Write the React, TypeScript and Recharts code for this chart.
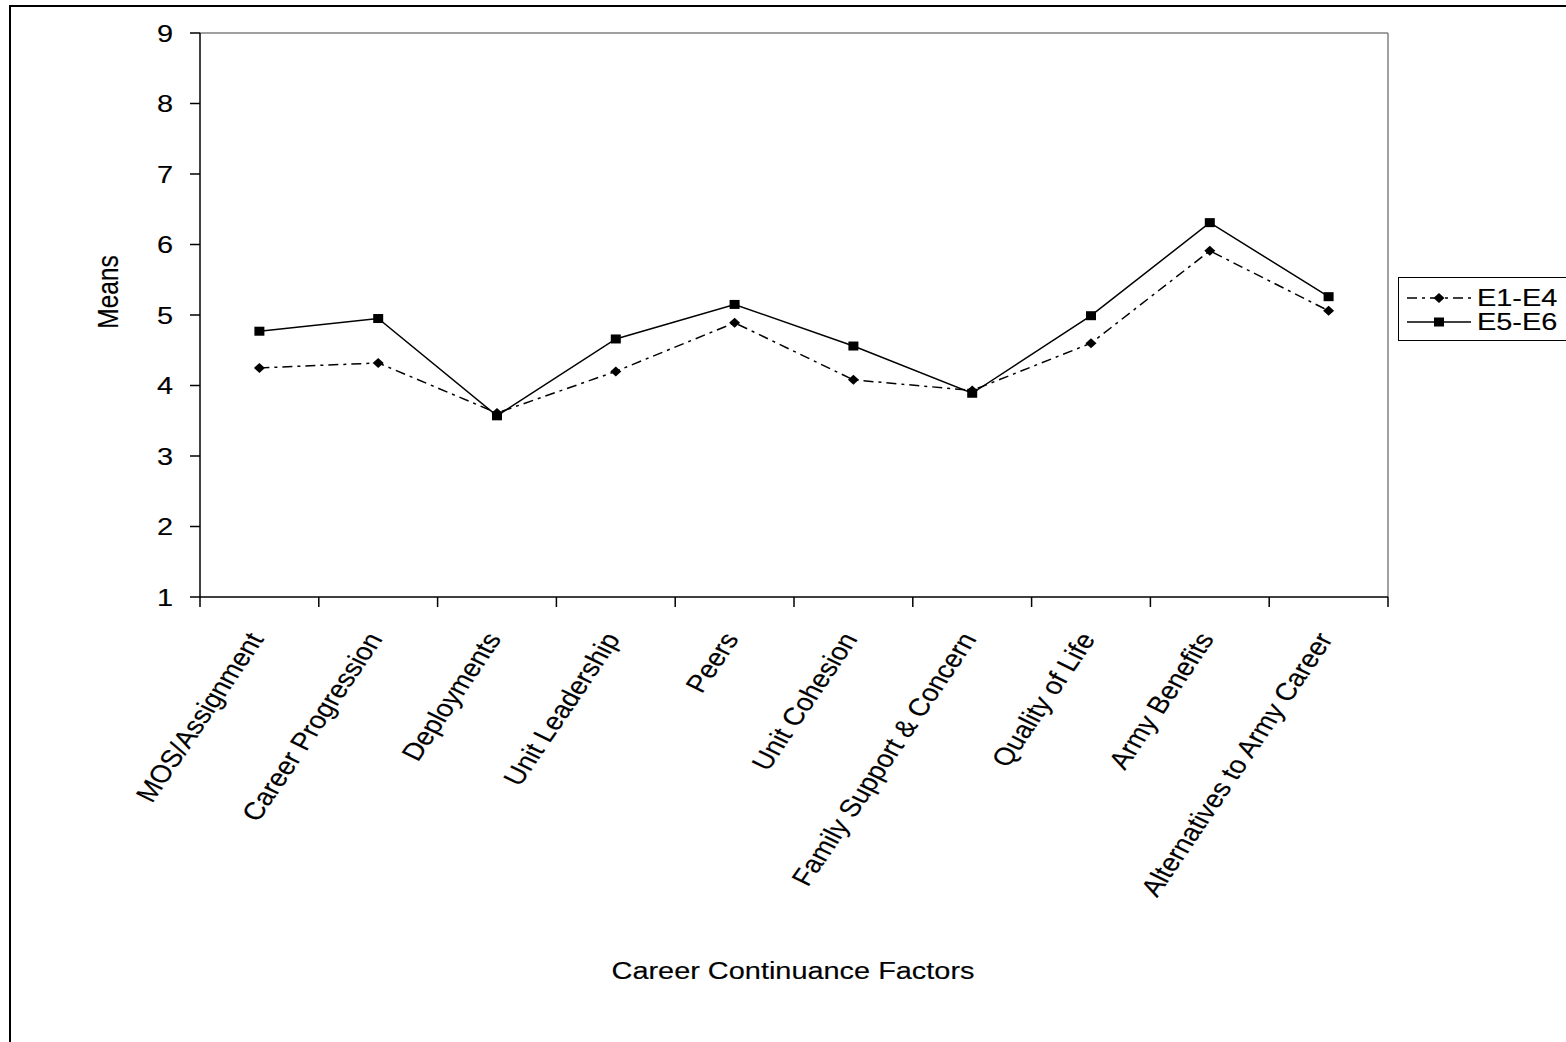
import React from "react";
import {
  LineChart,
  Line,
  XAxis,
  YAxis,
  ReferenceLine,
} from "recharts";

const categories = [
  "MOS/Assignment",
  "Career Progression",
  "Deployments",
  "Unit Leadership",
  "Peers",
  "Unit Cohesion",
  "Family Support & Concern",
  "Quality of Life",
  "Army Benefits",
  "Alternatives to Army Career",
];

const e1e4 = [4.25, 4.32, 3.61, 4.2, 4.89, 4.08, 3.93, 4.6, 5.91, 5.06];
const e5e6 = [4.77, 4.95, 3.57, 4.66, 5.15, 4.56, 3.89, 4.99, 6.31, 5.26];

const yTicks = [1, 2, 3, 4, 5, 6, 7, 8, 9];

const seriesNames = ["E1-E4", "E5-E6"];

const data = categories.map((name, i) => ({
  pos: i + 0.5,
  name,
  e1e4: e1e4[i],
  e5e6: e5e6[i],
}));

// tick marks sit between categories, so the x axis runs 0..n
const xTicks = categories.map((_, i) => i).concat(categories.length);

const W = 1566;
const H = 1042;
const LEFT = 200;
const RIGHT = 178;
const TOP = 33;
const X_AXIS_H = 445;
const BAND = (W - LEFT - RIGHT) / categories.length;

const FONT = "'Liberation Sans', Arial, sans-serif";
const FONT_SIZE = 24.5;
const STRETCH = 1.18; // the whole drawing is widened horizontally
const DASH_DOT = "10 5 3 5";

// text rotated first, then widened, like the rest of the figure
function WideText({ x, y, angle = 0, anchor = "start", dy, children }: any) {
  return (
    <text
      transform={`translate(${x},${y}) scale(${STRETCH},1) rotate(${angle})`}
      textAnchor={anchor}
      dy={dy}
      fontSize={FONT_SIZE}
      fontFamily={FONT}
      fill="#000"
      stroke="#000"
      strokeWidth={0.15}
    >
      {children}
    </text>
  );
}

function Diamond({ cx, cy }: any) {
  const rx = 5.5;
  const ry = 5;
  return (
    <polygon
      points={`${cx},${cy - ry} ${cx + rx},${cy} ${cx},${cy + ry} ${cx - rx},${cy}`}
      fill="#000"
    />
  );
}

function Square({ cx, cy }: any) {
  return <rect x={cx - 5} y={cy - 4.5} width={10} height={9} fill="#000" />;
}

function CategoryTick(props: any) {
  const { x, y, payload } = props;
  const i = payload.value;
  if (i >= categories.length) return <g />;
  return (
    <WideText x={x + BAND / 2 + 5} y={y + 30} angle={-60} anchor="end">
      {categories[i]}
    </WideText>
  );
}

function ValueTick(props: any) {
  const { x, y, payload } = props;
  return (
    <WideText x={x} y={y} anchor="end" dy="0.36em">
      {payload.value}
    </WideText>
  );
}

function Legend() {
  const rows = [
    { name: seriesNames[0], dash: DASH_DOT, Mark: Diamond },
    { name: seriesNames[1], dash: undefined, Mark: Square },
  ];
  return (
    <div
      style={{
        position: "absolute",
        left: 1398,
        top: 277,
        width: 190,
        height: 62,
        border: "1px solid #000",
        background: "#fff",
      }}
    >
      <svg width={190} height={62}>
        {rows.map((r, i) => {
          const cy = 19 + i * 24;
          return (
            <g key={r.name}>
              <line
                x1={8}
                x2={72}
                y1={cy + 1}
                y2={cy + 1}
                stroke="#000"
                strokeWidth={1.5}
                strokeDasharray={r.dash}
              />
              <r.Mark cx={40} cy={cy + 1} />
              <WideText x={78} y={cy} dy="0.36em">
                {r.name}
              </WideText>
            </g>
          );
        })}
      </svg>
    </div>
  );
}

export default function App() {
  return (
    <div
      style={{
        position: "fixed",
        inset: 0,
        background: "#fff",
        overflow: "hidden",
      }}
    >
      <div
        style={{
          position: "absolute",
          left: 9,
          top: 5,
          width: 1600,
          height: 1100,
          border: "2px solid #000",
        }}
      />
      <div style={{ position: "absolute", left: 0, top: 0 }}>
        <LineChart
          width={W}
          height={H}
          data={data}
          margin={{ top: TOP, right: RIGHT, bottom: 0, left: 0 }}
        >
          <XAxis
            type="number"
            dataKey="pos"
            domain={[0, categories.length]}
            ticks={xTicks}
            interval={0}
            height={X_AXIS_H}
            tickSize={10}
            axisLine={{ stroke: "#000", strokeWidth: 1.5 }}
            tickLine={{ stroke: "#000", strokeWidth: 1.5 }}
            tick={(p: any) => <CategoryTick {...p} />}
            label={{
              content: ({ viewBox }: any) => (
                <WideText
                  x={viewBox.x + viewBox.width / 2 - 1}
                  y={viewBox.y + 382}
                  anchor="middle"
                >
                  Career Continuance Factors
                </WideText>
              ),
            }}
          />
          <YAxis
            type="number"
            domain={[1, 9]}
            ticks={yTicks}
            interval={0}
            width={LEFT}
            tickSize={10}
            tickMargin={17}
            axisLine={{ stroke: "#000", strokeWidth: 1.5 }}
            tickLine={{ stroke: "#000", strokeWidth: 1.5 }}
            tick={(p: any) => <ValueTick {...p} />}
            label={{
              content: ({ viewBox }: any) => (
                <WideText
                  x={108}
                  y={viewBox.y + viewBox.height / 2 - 23}
                  angle={-90}
                  anchor="middle"
                  dy="0.36em"
                >
                  Means
                </WideText>
              ),
            }}
          />
          <ReferenceLine y={9} stroke="#808080" strokeWidth={1.5} />
          <ReferenceLine x={categories.length} stroke="#808080" strokeWidth={1.5} />
          <Line
            type="linear"
            dataKey="e1e4"
            name={seriesNames[0]}
            stroke="#000"
            strokeWidth={1.5}
            strokeDasharray={DASH_DOT}
            dot={(p: any) => <Diamond key={`d${p.index}`} cx={p.cx} cy={p.cy} />}
            activeDot={false}
            isAnimationActive={false}
          />
          <Line
            type="linear"
            dataKey="e5e6"
            name={seriesNames[1]}
            stroke="#000"
            strokeWidth={1.5}
            dot={(p: any) => <Square key={`s${p.index}`} cx={p.cx} cy={p.cy} />}
            activeDot={false}
            isAnimationActive={false}
          />
        </LineChart>
      </div>
      <Legend />
    </div>
  );
}
